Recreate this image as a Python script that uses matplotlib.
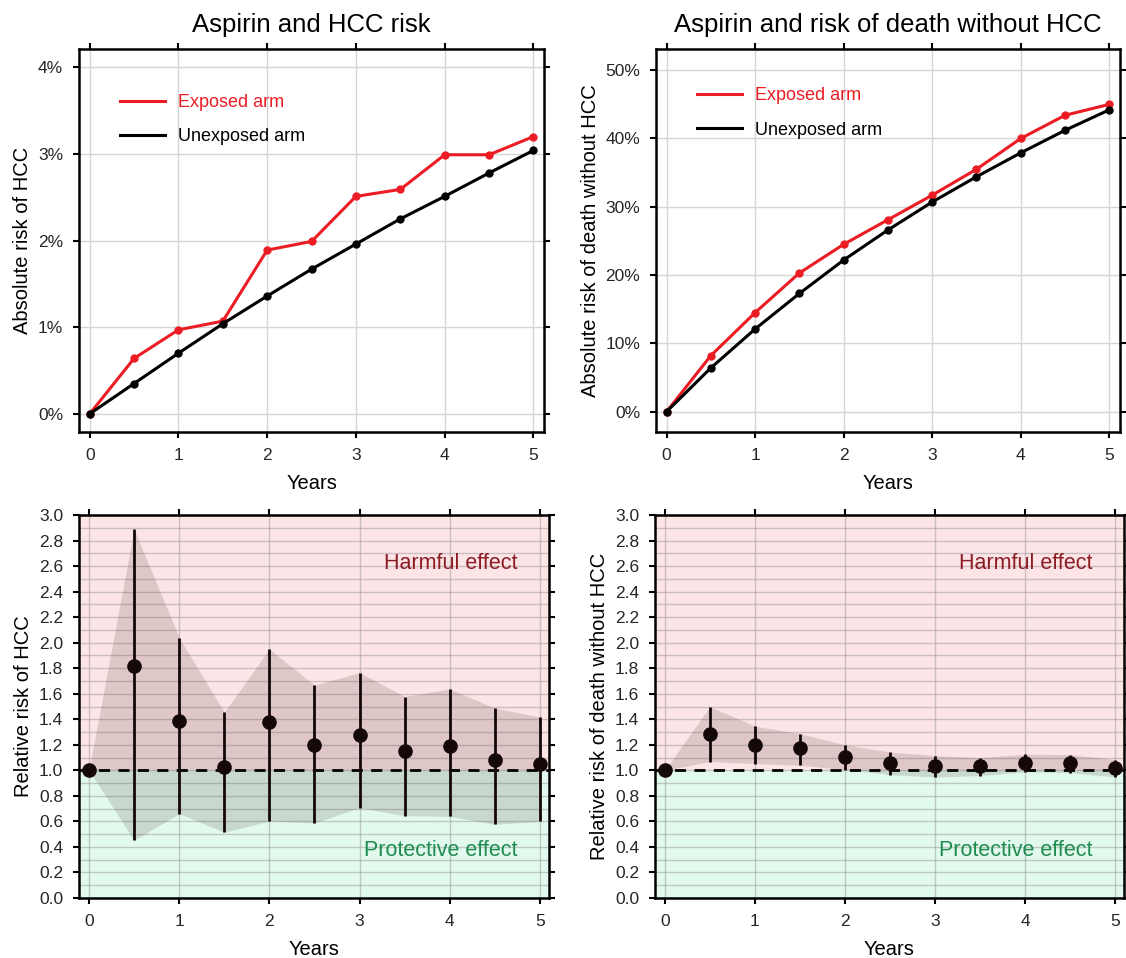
import numpy as np
import matplotlib
matplotlib.use("Agg")
import matplotlib.pyplot as plt
from matplotlib.ticker import FuncFormatter, MultipleLocator

plt.rcParams['font.family'] = ['Liberation Sans', 'DejaVu Sans']

# --- data ---
years = [0, 0.5, 1, 1.5, 2, 2.5, 3, 3.5, 4, 4.5, 5]

hcc_exposed = [0, 0.64, 0.97, 1.07, 1.89, 1.99, 2.51, 2.59, 2.99, 2.99, 3.20]
hcc_unexposed = [0, 0.35, 0.70, 1.04, 1.36, 1.67, 1.96, 2.25, 2.51, 2.78, 3.04]

death_exposed = [0, 8.2, 14.5, 20.3, 24.5, 28.1, 31.7, 35.5, 40.0, 43.4, 45.0]
death_unexposed = [0, 6.4, 12.1, 17.3, 22.2, 26.6, 30.7, 34.4, 37.9, 41.2, 44.2]

rr_hcc = [1.0, 1.82, 1.39, 1.03, 1.38, 1.20, 1.275, 1.155, 1.19, 1.08, 1.053]
rr_hcc_hi = [1.0, 2.89, 2.04, 1.455, 1.95, 1.667, 1.766, 1.578, 1.638, 1.487, 1.419]
rr_hcc_lo = [1.0, 0.452, 0.661, 0.515, 0.604, 0.588, 0.708, 0.645, 0.64, 0.577, 0.601]

rr_death = [1.0, 1.288, 1.20, 1.173, 1.108, 1.056, 1.035, 1.032, 1.056, 1.056, 1.019]
rr_death_hi = [1.0, 1.50, 1.346, 1.288, 1.20, 1.145, 1.116, 1.10, 1.126, 1.124, 1.084]
rr_death_lo = [1.0, 1.069, 1.053, 1.04, 1.006, 0.967, 0.948, 0.959, 0.988, 0.982, 0.948]

RED = '#ec1c24'
TICK_COL = '#262626'


def style_box(ax):
    for sp in ax.spines.values():
        sp.set_linewidth(1.8)
        sp.set_color('black')
    ax.tick_params(which='major', direction='out', length=4.5, width=1.5,
                   top=True, right=True, labeltop=False, labelright=False,
                   labelsize=12.5, labelcolor=TICK_COL, pad=7)
    ax.tick_params(which='minor', length=0)
    ax.set_xticks([0, 1, 2, 3, 4, 5])
    ax.set_xlabel("Years", fontsize=14.5, labelpad=8)


def absolute_panel(ax, exp, unexp, title, ylabel, yticks, ylim, leg_y):
    ax.plot(years, exp, '-o', color=RED, lw=2.2, ms=5, label="Exposed arm", zorder=3)
    ax.plot(years, unexp, '-o', color='black', lw=2.2, ms=5, label="Unexposed arm", zorder=4)
    ax.set_xlim(-0.12, 5.12)
    ax.set_ylim(*ylim)
    ax.set_yticks(yticks)
    ax.yaxis.set_major_formatter(FuncFormatter(lambda v, p: f"{v:.0f}%"))
    ax.grid(True, color='#d6d6d6', lw=1)
    ax.set_axisbelow(True)
    ax.set_title(title, fontsize=18.5, pad=12)
    ax.set_ylabel(ylabel, fontsize=14.5)
    style_box(ax)
    leg = ax.legend(loc='upper left', bbox_to_anchor=(0.088, leg_y), frameon=False,
                    fontsize=13, handlelength=2.5, handletextpad=0.7,
                    labelspacing=0.95, borderpad=0, borderaxespad=0,
                    labelcolor='linecolor')
    for h in leg.get_lines():
        h.set_marker('')


def relative_panel(ax, rr, lo, hi, ylabel):
    ax.axhspan(1, 3, color='#fde4e6', zorder=0, lw=0)
    ax.axhspan(0, 1, color='#e2f9ee', zorder=0, lw=0)
    ax.set_xlim(-0.11, 5.1)
    ax.set_ylim(0, 3)
    ax.yaxis.set_major_locator(MultipleLocator(0.2))
    ax.yaxis.set_minor_locator(MultipleLocator(0.1))
    ax.yaxis.set_major_formatter(FuncFormatter(lambda v, p: f"{v:.1f}"))
    ax.grid(True, axis='y', which='both', color='#999999', lw=1, alpha=0.5, zorder=1)
    ax.grid(True, axis='x', which='major', color='#999999', lw=1, alpha=0.5, zorder=1)
    ax.set_axisbelow(True)
    ax.fill_between(years, lo, hi, color='#3a2222', alpha=0.15, lw=0, zorder=2)
    ax.axhline(1.0, color='black', lw=2, ls=(0, (4, 3)), zorder=3)
    yerr = [np.array(rr) - np.array(lo), np.array(hi) - np.array(rr)]
    ax.errorbar(years, rr, yerr=yerr, fmt='o', color='#140808', ms=9.5,
                elinewidth=2, capsize=0, zorder=4)
    ax.text(4.75, 2.62, "Harmful effect", color='#8b1c24', fontsize=15.5,
            ha='right', va='center', zorder=5)
    ax.text(4.75, 0.37, "Protective effect", color='#1e8c4e', fontsize=15.5,
            ha='right', va='center', zorder=5)
    ax.set_ylabel(ylabel, fontsize=14.5)
    style_box(ax)


fig = plt.figure(figsize=(11.26, 9.58), dpi=100)
ax1 = fig.add_axes([0.0702, 0.549, 0.413, 0.3998])
ax2 = fig.add_axes([0.5826, 0.549, 0.412, 0.3998])
ax3 = fig.add_axes([0.0702, 0.0626, 0.4174, 0.3998])
ax4 = fig.add_axes([0.5817, 0.0626, 0.4165, 0.3998])

absolute_panel(ax1, hcc_exposed, hcc_unexposed, "Aspirin and HCC risk",
               "Absolute risk of HCC", [0, 1, 2, 3, 4], (-0.21, 4.21), 0.883)
absolute_panel(ax2, death_exposed, death_unexposed, "Aspirin and risk of death without HCC",
               "Absolute risk of death without HCC", [0, 10, 20, 30, 40, 50], (-3, 53.1), 0.90)
relative_panel(ax3, rr_hcc, rr_hcc_lo, rr_hcc_hi, "Relative risk of HCC")
relative_panel(ax4, rr_death, rr_death_lo, rr_death_hi, "Relative risk of death without HCC")

fig.savefig("out.png", dpi=100)
